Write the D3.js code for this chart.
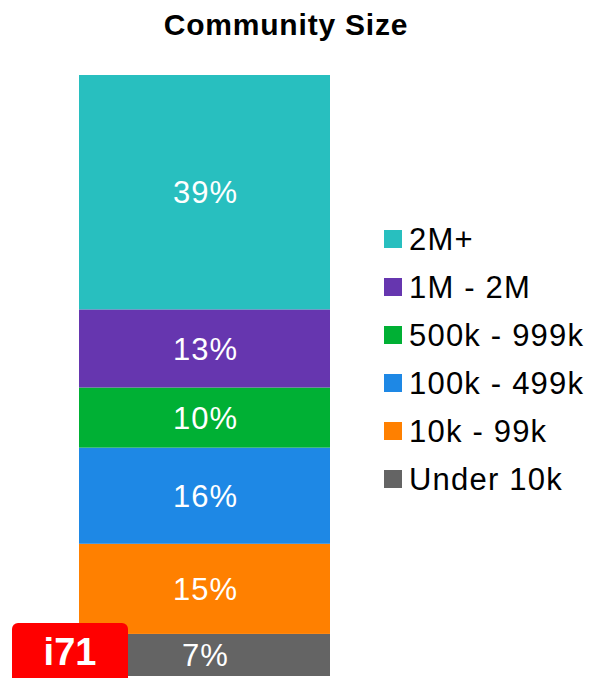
<!DOCTYPE html>
<html>
<head>
<meta charset="utf-8">
<script src="https://cdn.jsdelivr.net/npm/d3@7"></script>
<style>
  html, body { margin: 0; padding: 0; background: #fff; }
  svg { display: block; }
</style>
</head>
<body>
<svg id="chart" width="598" height="678"></svg>
<script>
// Community size shares, listed from the bottom of the stack upward
const categories = ["Under 10k", "10k - 99k", "100k - 499k", "500k - 999k", "1M - 2M", "2M+"];
const shares = [7, 15, 16, 10, 13, 39];
const colors = ["#646464", "#ff8000", "#1e88e5", "#00b034", "#6636af", "#28bfbf"];
const legendOrder = ["2M+", "1M - 2M", "500k - 999k", "100k - 499k", "10k - 99k", "Under 10k"];

const font = "'Liberation Sans', Arial, Helvetica, sans-serif";
const svg = d3.select("#chart");

const rows = categories.map((c, i) => ({ category: c, value: shares[i] }));
const stack = d3.stack().keys(categories)([Object.fromEntries(rows.map(r => [r.category, r.value]))]);

const x = d3.scaleBand().domain(["all"]).range([79, 330]).padding(0);
const y = d3.scaleLinear().domain([0, d3.sum(shares)]).range([676, 75]);
const color = d3.scaleOrdinal().domain(categories).range(colors);

// Title
svg.append("text")
  .attr("x", 286).attr("y", 35)
  .attr("text-anchor", "middle")
  .attr("font-family", font).attr("font-weight", "bold")
  .attr("font-size", 30).attr("letter-spacing", 0.8).attr("fill", "#000")
  .text("Community Size");

// Stacked segments
const seg = svg.append("g").selectAll("g")
  .data(stack)
  .join("g");

seg.append("rect")
  .attr("x", x("all"))
  .attr("width", x.bandwidth())
  .attr("y", d => y(d[0][1]))
  .attr("height", d => y(d[0][0]) - y(d[0][1]))
  .attr("fill", d => color(d.key));

seg.append("text")
  .attr("x", x("all") + x.bandwidth() / 2 + 1)
  .attr("y", d => (y(d[0][0]) + y(d[0][1])) / 2)
  .attr("dy", "0.36em")
  .attr("text-anchor", "middle")
  .attr("font-family", font).attr("font-size", 31).attr("letter-spacing", 1)
  .attr("fill", "#fff")
  .text(d => d[0].data[d.key] + "%");

// Legend
const legend = svg.append("g").selectAll("g")
  .data(legendOrder)
  .join("g")
  .attr("transform", (d, i) => `translate(384, ${239 + i * 48})`);

legend.append("rect")
  .attr("x", 0).attr("y", -9)
  .attr("width", 18).attr("height", 18)
  .attr("fill", d => color(d));

legend.append("text")
  .attr("x", 25).attr("y", 0)
  .attr("dy", "0.36em")
  .attr("font-family", font).attr("font-size", 31).attr("letter-spacing", 1.2)
  .attr("fill", "#000")
  .text(d => d);

// Badge
const badge = svg.append("g");
badge.append("rect")
  .attr("x", 12).attr("y", 623)
  .attr("width", 116).attr("height", 62)
  .attr("rx", 6)
  .attr("fill", "#ff0000");
badge.append("text")
  .attr("x", 70).attr("y", 665)
  .attr("text-anchor", "middle")
  .attr("font-family", font).attr("font-weight", "bold")
  .attr("font-size", 38).attr("fill", "#fff")
  .text("i71");
</script>
</body>
</html>
